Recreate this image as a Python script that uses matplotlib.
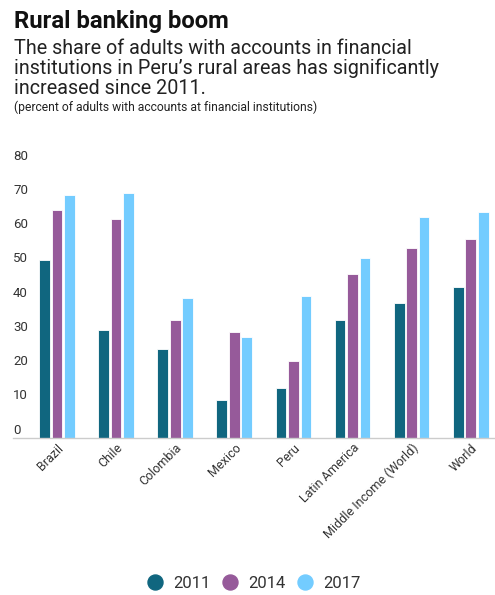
import matplotlib.pyplot as plt
import numpy as np
from matplotlib.lines import Line2D

# Data

CATEGORIES = ["Brazil", "Chile", "Colombia", "Mexico", "Peru",
              "Latin America", "Middle Income (World)", "World"]
YEARS = ["2011", "2014", "2017"]
VALUES_2011 = [52, 31.5, 26, 11, 14.5, 34.5, 39.5, 44]
VALUES_2014 = [66.5, 64, 34.5, 31, 22.5, 48, 55.5, 58]
VALUES_2017 = [71, 71.5, 41, 29.5, 41.5, 52.5, 64.5, 66]
Y_TICKS = [0, 10, 20, 30, 40, 50, 60, 70, 80]

COLORS = ["#10667f", "#965a9a", "#73ccff"]
W, H = 495, 595

plt.rcParams['font.family'] = ['Roboto', 'DejaVu Sans']

fig = plt.figure(figsize=(W / 100, H / 100), dpi=100)


def fx(px):
    return px / W


def fy(py):
    return 1 - py / H


# Titles
fig.text(fx(14), fy(28), "Rural banking boom", fontsize=17.2, fontweight="bold",
         color="#111111", va="baseline")
subtitle = ["The share of adults with accounts in financial",
            "institutions in Peru\u2019s rural areas has significantly",
            "increased since 2011."]
for i, line in enumerate(subtitle):
    fig.text(fx(14), fy(53.5 + 20.4 * i), line, fontsize=14.2, color="#222222",
             va="baseline")
fig.text(fx(14), fy(111.5), "(percent of adults with accounts at financial institutions)",
         fontsize=8.7, color="#222222", va="baseline")

# Axes
ax_left, ax_right, ax_top, ax_bottom = 13, 495, 150, 438
ax = fig.add_axes([fx(ax_left), fy(ax_bottom), fx(ax_right - ax_left),
                   (ax_bottom - ax_top) / H])

ind = np.arange(len(CATEGORIES))
width = 0.181
offset = 0.211
for k, vals in enumerate([VALUES_2011, VALUES_2014, VALUES_2017]):
    ax.bar(ind + (k - 1) * offset, vals, width, color=COLORS[k],
           edgecolor="white", linewidth=0.6, zorder=2)

ax.set_xlim(-0.744, 7.41)
scale = 3.425  # px per unit
ax.set_ylim(0, (ax_bottom - ax_top) / scale)

for s in ["top", "right", "left"]:
    ax.spines[s].set_visible(False)
ax.spines["bottom"].set_color("#cccccc")
ax.spines["bottom"].set_linewidth(1)

ax.set_yticks(Y_TICKS)
ax.set_yticklabels([])
ax.tick_params(axis="y", length=0)
for t in Y_TICKS:
    ax.annotate(str(t), xy=(0, t), xycoords=("axes fraction", "data"),
                xytext=(0, 1), textcoords="offset points",
                ha="left", va="bottom", fontsize=9.5, color="#333333")

ax.set_xticks(ind)
ax.set_xticklabels(CATEGORIES, rotation=45, ha="right", rotation_mode="anchor",
                   fontsize=9, color="#333333")
ax.tick_params(axis="x", length=0, pad=2.5)

# Legend
handles = [Line2D([], [], marker="o", linestyle="", markersize=10.8,
                  markerfacecolor=c, markeredgecolor=c) for c in COLORS]
fig.legend(handles, YEARS, loc="center", bbox_to_anchor=(fx(254), fy(583)),
           ncol=3, frameon=False, fontsize=12, handlelength=0.9,
           handletextpad=0.65, columnspacing=0.7, labelcolor="#333333")

plt.savefig("out.png", dpi=100)
